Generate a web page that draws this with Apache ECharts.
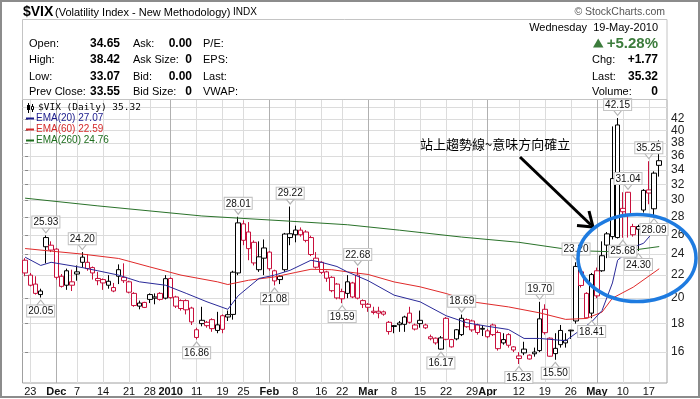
<!DOCTYPE html>
<html>
<head>
<meta charset="utf-8">
<title>$VIX daily</title>
<script src="https://cdn.jsdelivr.net/npm/echarts@6/dist/echarts.min.js"></script>
<style>
  html, body { margin: 0; padding: 0; background: #fff; }
  #chart { width: 700px; height: 399px; }
</style>
</head>
<body>
<div id="chart"></div>
<script>
// trading days shown on the chart
const dates = [
  '2009-11-20','2009-11-23','2009-11-24','2009-11-25','2009-11-27','2009-11-30','2009-12-01','2009-12-02','2009-12-03','2009-12-04',
  '2009-12-07','2009-12-08','2009-12-09','2009-12-10','2009-12-11','2009-12-14','2009-12-15','2009-12-16','2009-12-17','2009-12-18',
  '2009-12-21','2009-12-22','2009-12-23','2009-12-24','2009-12-28','2009-12-29','2009-12-30','2009-12-31','2010-01-04','2010-01-05',
  '2010-01-06','2010-01-07','2010-01-08','2010-01-11','2010-01-12','2010-01-13','2010-01-14','2010-01-15','2010-01-19','2010-01-20',
  '2010-01-21','2010-01-22','2010-01-25','2010-01-26','2010-01-27','2010-01-28','2010-01-29','2010-02-01','2010-02-02','2010-02-03',
  '2010-02-04','2010-02-05','2010-02-08','2010-02-09','2010-02-10','2010-02-11','2010-02-12','2010-02-16','2010-02-17','2010-02-18',
  '2010-02-19','2010-02-22','2010-02-23','2010-02-24','2010-02-25','2010-02-26','2010-03-01','2010-03-02','2010-03-03','2010-03-04',
  '2010-03-05','2010-03-08','2010-03-09','2010-03-10','2010-03-11','2010-03-12','2010-03-15','2010-03-16','2010-03-17','2010-03-18',
  '2010-03-19','2010-03-22','2010-03-23','2010-03-24','2010-03-25','2010-03-26','2010-03-29','2010-03-30','2010-03-31','2010-04-01',
  '2010-04-05','2010-04-06','2010-04-07','2010-04-08','2010-04-09','2010-04-12','2010-04-13','2010-04-14','2010-04-15','2010-04-16',
  '2010-04-19','2010-04-20','2010-04-21','2010-04-22','2010-04-23','2010-04-26','2010-04-27','2010-04-28','2010-04-29','2010-04-30',
  '2010-05-03','2010-05-04','2010-05-05','2010-05-06','2010-05-07','2010-05-10','2010-05-11','2010-05-12','2010-05-13','2010-05-14',
  '2010-05-17','2010-05-18','2010-05-19'
]

const open = [
  23.4, 22.0, 21.2, 20.3, 25.7, 24.9, 24.5, 21.9, 21.1, 21.4,
  22.3, 23.2, 23.2, 22.7, 21.7, 21.6, 21.1, 20.9, 21.9, 21.8,
  21.4, 20.4, 19.35, 19.65, 20.3, 20.1, 20.4, 20.0, 21.7, 20.1,
  19.8, 19.8, 19.2, 17.0, 18.0, 18.1, 18.3, 17.5, 18.6, 18.5,
  18.7, 22.2, 27.2, 26.3, 25.2, 22.5, 23.6, 24.2, 22.4, 21.9,
  22.5, 25.7, 26.0, 26.5, 26.3, 25.7, 23.6, 23.2, 22.3, 21.8,
  21.2, 20.55, 20.4, 21.3, 22.0, 19.8, 19.5, 18.85, 18.95, 18.9,
  18.1, 17.85, 18.05, 17.95, 18.8, 17.9, 18.25, 17.9, 17.05, 16.95,
  16.2, 18.4, 16.85, 16.9, 17.2, 18.3, 18.2, 17.9, 17.65, 17.05,
  17.9, 17.35, 16.85, 17.2, 16.35, 15.75, 15.95, 15.8, 16.0, 16.1,
  19.1, 16.95, 15.9, 17.5, 16.8, 17.52, 18.2, 22.3, 20.4, 18.8,
  22.4, 22.4, 26.1, 25.8, 25.7, 29.0, 31.0, 26.9, 26.6, 28.8,
  31.3, 28.95, 34.65
]
const close = [
  22.2, 21.1, 20.4, 20.6, 24.74, 24.4, 21.8, 21.0, 22.4, 21.1,
  22.1, 23.7, 22.6, 22.2, 21.5, 21.3, 21.45, 20.6, 22.5, 21.5,
  20.5, 19.4, 19.6, 19.25, 19.9, 20.0, 19.9, 21.68, 20.04, 19.35,
  19.16, 19.06, 18.13, 17.55, 18.25, 17.85, 17.63, 17.91, 17.58, 18.68,
  22.27, 27.31, 25.41, 24.55, 23.14, 23.73, 24.62, 22.59, 21.48, 21.60,
  26.08, 26.11, 26.51, 26.00, 25.40, 23.96, 22.73, 22.25, 21.72, 20.63,
  20.02, 19.95, 21.4, 20.1, 20.0, 19.5, 19.26, 18.95, 18.8, 18.72,
  17.42, 17.79, 17.92, 18.5, 18.1, 17.6, 18.0, 17.69, 16.91, 16.62,
  16.97, 16.87, 16.35, 17.55, 18.40, 17.77, 17.54, 17.35, 17.59, 17.47,
  17.2, 16.23, 16.62, 16.46, 16.14, 15.58, 16.2, 15.55, 15.89, 18.36,
  17.34, 15.73, 16.25, 16.5, 16.62, 17.47, 22.81, 21.08, 18.44, 22.05,
  20.19, 23.84, 24.91, 32.80, 40.95, 28.6, 28.3, 26.0, 26.9, 31.24,
  30.9, 33.55, 35.32
]
const low = [
  21.9, 21.0, 20.3, 20.05, 23.1, 24.2, 21.6, 20.9, 20.7, 20.6,
  21.5, 22.7, 22.4, 21.6, 21.1, 20.7, 20.8, 20.5, 21.2, 21.3,
  20.4, 19.3, 19.1, 19.2, 19.6, 19.5, 19.8, 19.9, 19.95, 19.2,
  19.0, 18.7, 17.9, 16.86, 17.8, 17.7, 17.4, 17.3, 17.3, 18.2,
  18.3, 22.0, 24.9, 23.4, 22.9, 22.3, 22.0, 22.4, 21.08, 21.2,
  22.3, 24.9, 25.2, 25.8, 25.2, 23.8, 22.6, 22.1, 21.4, 20.5,
  19.9, 19.59, 20.0, 20.0, 19.9, 19.2, 18.9, 18.7, 18.4, 18.6,
  17.2, 17.3, 17.4, 17.4, 18.0, 17.5, 17.7, 17.6, 16.8, 16.5,
  16.17, 16.8, 16.3, 16.8, 17.1, 17.7, 17.4, 17.2, 17.1, 16.95,
  17.1, 16.1, 16.5, 16.3, 16.0, 15.23, 15.8, 15.52, 15.7, 16.0,
  17.2, 15.7, 15.50, 16.3, 16.3, 16.9, 18.0, 20.9, 18.4, 18.41,
  20.0, 22.3, 23.6, 25.5, 25.6, 25.68, 25.7, 25.8, 24.30, 28.5,
  29.5, 28.09, 33.07
]
const high = [
  23.6, 22.2, 21.9, 20.8, 25.93, 25.3, 24.6, 22.1, 22.6, 22.5,
  22.9, 24.2, 24.0, 22.8, 22.3, 21.7, 22.0, 21.3, 23.0, 23.1,
  21.5, 20.5, 19.8, 19.7, 20.4, 20.4, 20.5, 22.0, 21.8, 20.2,
  19.9, 19.9, 19.3, 17.7, 19.3, 18.2, 18.4, 18.9, 18.7, 19.0,
  22.4, 28.01, 27.6, 27.4, 25.4, 25.3, 25.5, 24.3, 22.5, 22.0,
  26.2, 29.22, 27.0, 26.8, 26.5, 25.9, 24.2, 23.3, 22.4, 21.9,
  21.3, 20.8, 22.0, 21.4, 22.68, 19.9, 19.6, 19.3, 19.3, 19.0,
  18.2, 17.9, 18.2, 18.6, 19.3, 18.0, 19.0, 18.0, 17.2, 17.0,
  17.1, 18.5, 16.9, 17.6, 18.69, 18.4, 18.3, 18.0, 17.9, 17.6,
  18.0, 17.5, 17.3, 17.3, 16.4, 16.0, 16.7, 15.85, 16.3, 19.70,
  19.5, 17.0, 17.3, 17.9, 17.3, 17.55, 23.20, 22.5, 20.5, 22.2,
  22.7, 25.3, 26.3, 40.71, 42.15, 31.0, 31.04, 27.2, 27.1, 31.4,
  35.25, 33.8, 38.42
]

// moving averages at a few days (day index, value)
const ema20Idx = [0, 3, 5, 11, 14, 18, 22, 27, 31, 35, 39, 41, 45, 48, 51, 55, 57, 60, 62, 66, 71, 76, 81, 85, 89, 93, 96, 99, 104, 109, 111, 113, 114, 117, 119, 122]
const ema20Val = [23.7, 22.9, 23.2, 22.7, 22.4, 22.0, 21.4, 21.1, 20.4, 19.7, 19.1, 20.2, 21.7, 22.0, 22.45, 23.4, 23.2, 22.8, 22.3, 21.5, 20.25, 19.7, 18.6, 18.06, 17.8, 17.57, 16.93, 16.93, 16.77, 18.13, 19.0, 21.3, 23.4, 24.7, 25.1, 27.07]
const ema60Idx = [0, 5, 11, 18, 24, 30, 37, 39, 43, 48, 52, 55, 59, 62, 66, 71, 76, 81, 86, 93, 99, 104, 108, 111, 113, 117, 122]
const ema60Val = [24.56, 24.3, 24.0, 23.57, 22.76, 22.0, 21.4, 21.16, 21.54, 21.84, 22.24, 22.54, 22.5, 22.3, 22.06, 21.39, 20.96, 20.39, 19.7, 19.29, 18.82, 18.32, 18.39, 18.88, 20.0, 20.93, 22.59]
const ema260Idx = [0, 14, 34, 51, 62, 72, 84, 95, 106, 112, 117, 122]
const ema260Val = [30.25, 29.3, 28.1, 27.5, 27.1, 26.5, 25.75, 25.2, 24.35, 24.25, 24.4, 24.76]

// x axis tick labels (day index, text), y axis ticks
const xTickIdx = [1, 6, 10, 15, 20, 24, 28, 33, 38, 42, 47, 52, 57, 61, 66, 71, 76, 81, 86, 89, 95, 100, 105, 110, 115, 120]
const xTickText = ['23', 'Dec', '7', '14', '21', '28', '2010', '11', '19', '25', 'Feb', '8', '16', '22', 'Mar', '8', '15', '22', '29', 'Apr', '12', '19', '26', 'May', '10', '17']
const monthIdx = [6, 28, 47, 66, 89, 110]
const yTicks = [16, 18, 20, 22, 24, 26, 28, 30, 32, 34, 36, 38, 40, 42, 44]

// labelled highs and lows (day index, value)
const highMarks = [[4, 25.93], [11, 24.20], [41, 28.01], [51, 29.22], [64, 22.68], [84, 18.69], [99, 19.70], [106, 23.20], [114, 42.15], [116, 31.04], [120, 35.25]]
const lowMarks = [[3, 20.05], [33, 16.86], [48, 21.08], [61, 19.59], [80, 16.17], [95, 15.23], [102, 15.50], [109, 18.41], [115, 25.68], [118, 24.30], [121, 28.09]]

// quote box
const quoteLabels1 = ['Open:', 'High:', 'Low:', 'Prev Close:']
const quoteValues1 = ['34.65', '38.42', '33.07', '33.55']
const quoteLabels2 = ['Ask:', 'Ask Size:', 'Bid:', 'Bid Size:']
const quoteValues2 = ['0.00', '0', '0.00', '0']
const quoteLabels3 = ['P/E:', 'EPS:', 'Last:', 'VWAP:']

const RED = '#c8103c'
const BLACK = '#000'
const FONT = '"Liberation Sans", Arial, sans-serif'

const candles = open.map((o, i) => {
  const c = close[i]
  // colour against the previous close, the first bar against its own open
  const prev = i === 0 ? o : close[i - 1]
  const col = c < prev ? RED : BLACK
  return {
    value: [i, o, c, low[i], high[i]],
    itemStyle: { color: '#fff', color0: col, borderColor: col, borderColor0: col }
  }
})

const pairs = (idx, val) => idx.map((d, k) => [d, val[k]])

const markData = []
highMarks.forEach(([i, v]) => markData.push({
  coord: [i, v], value: v.toFixed(2),
  symbol: 'path://M0 0L10 0L5 6Z', symbolOffset: [0, -5],
  label: { position: 'top' }
}))
lowMarks.forEach(([i, v]) => markData.push({
  coord: [i, v], value: v.toFixed(2),
  symbol: 'path://M5 0L10 6L0 6Z', symbolOffset: [0, 5],
  label: { position: 'bottom' }
}))

function txt(text, x, y, font, extra) {
  return {
    type: 'text', x: x, y: y, z: 50,
    style: Object.assign({
      text: text, fill: '#000', font: font,
      align: 'left', textAlign: 'left',
      verticalAlign: 'middle', textVerticalAlign: 'middle'
    }, extra || {})
  }
}
const right = { align: 'right', textAlign: 'right' }

const rowY = [43.5, 60, 76.5, 92]
const graphics = [
  { type: 'rect', z: 40, shape: { x: 1, y: 1, width: 698, height: 396 }, style: { fill: 'none', stroke: '#8c8c8c', lineWidth: 2 } },
  { type: 'rect', z: 40, shape: { x: 22.5, y: 19.5, width: 644.5, height: 80 }, style: { fill: 'none', stroke: '#c4c4c4', lineWidth: 1 } },
  txt('$VIX', 23, 12, 'bold 14px ' + FONT),
  txt('(Volatility Index - New Methodology)', 55, 12.5, '11px ' + FONT),
  txt('INDX', 233, 12.5, '10px ' + FONT),
  txt('\u00a9 StockCharts.com', 665, 12.5, '10.5px ' + FONT, Object.assign({ fill: '#555' }, right)),
  txt('Wednesday  19-May-2010', 658, 28, '11px ' + FONT, right),
  { type: 'polygon', z: 50, shape: { points: [[593, 47.5], [603.5, 47.5], [598.2, 38.5]] }, style: { fill: '#3c7c3c' } },
  txt('+5.28%', 658, 43.5, 'bold 15px ' + FONT, Object.assign({ fill: '#3c7c3c' }, right)),
  txt('Chg:', 592, 60, '11px ' + FONT),
  txt('+1.77', 658, 60, 'bold 12px ' + FONT, right),
  txt('Last:', 592, 76.5, '11px ' + FONT),
  txt('35.32', 658, 76.5, 'bold 12px ' + FONT, right),
  txt('Volume:', 592, 92, '11px ' + FONT),
  txt('0', 658, 92, 'bold 12px ' + FONT, right),
  // legend inside the plot
  { type: 'line', z: 50, shape: { x1: 28.5, y1: 103, x2: 28.5, y2: 113 }, style: { stroke: '#000', lineWidth: 1 } },
  { type: 'rect', z: 51, shape: { x: 27, y: 105, width: 3, height: 5 }, style: { fill: '#000' } },
  { type: 'line', z: 50, shape: { x1: 32.5, y1: 104, x2: 32.5, y2: 112 }, style: { stroke: '#000', lineWidth: 1 } },
  { type: 'rect', z: 51, shape: { x: 31.5, y: 106.5, width: 2, height: 3 }, style: { fill: '#fff', stroke: '#000', lineWidth: 1 } },
  txt('$VIX (Daily) 35.32', 38, 108, '9.5px "DejaVu Sans Mono", monospace'),
  { type: 'line', z: 50, shape: { x1: 26, y1: 118.5, x2: 34, y2: 118.5 }, style: { stroke: '#1c1c8c', lineWidth: 2 } },
  txt('EMA(20) 27.07', 36, 118.5, '10px ' + FONT, { fill: '#1c1c8c' }),
  { type: 'line', z: 50, shape: { x1: 26, y1: 129.5, x2: 34, y2: 129.5 }, style: { stroke: '#d42a2a', lineWidth: 2 } },
  txt('EMA(60) 22.59', 36, 129.5, '10px ' + FONT, { fill: '#d42a2a' }),
  { type: 'line', z: 50, shape: { x1: 26, y1: 140.5, x2: 34, y2: 140.5 }, style: { stroke: '#1e6e1e', lineWidth: 2 } },
  txt('EMA(260) 24.76', 36, 140.5, '10px ' + FONT, { fill: '#1e6e1e' }),
  // hand drawn notes
  txt('站上趨勢線~意味方向確立', 420, 144, '13px "Noto Sans CJK TC", sans-serif'),
  { type: 'polyline', z: 60, shape: { points: [[520, 157], [591, 225]] }, style: { stroke: '#000', lineWidth: 3, fill: 'none' } },
  { type: 'polyline', z: 60, shape: { points: [[577, 225.5], [593, 227], [589, 211]] }, style: { stroke: '#000', lineWidth: 3, fill: 'none' } },
  { type: 'ellipse', z: 60, shape: { cx: 637, cy: 258, rx: 59, ry: 43.5 }, style: { fill: 'none', stroke: '#1e7be0', lineWidth: 3.5 } }
]
quoteLabels1.forEach((t, k) => {
  graphics.push(txt(t, 29, rowY[k], '11px ' + FONT))
  graphics.push(txt(quoteValues1[k], 120, rowY[k], 'bold 12px ' + FONT, right))
  graphics.push(txt(quoteLabels2[k], 133, rowY[k], '11px ' + FONT))
  graphics.push(txt(quoteValues2[k], 192, rowY[k], 'bold 12px ' + FONT, right))
  graphics.push(txt(quoteLabels3[k], 203, rowY[k], '11px ' + FONT))
})

const chart = echarts.init(document.getElementById('chart'))
const option = {
  animation: false,
  backgroundColor: '#fff',
  textStyle: { fontFamily: FONT },
  grid: { left: 22.5, right: 33, top: 99.5, bottom: 16, show: true, borderColor: '#a0a0a0', borderWidth: 1 },
  xAxis: [{
    type: 'value', min: -0.5, max: 123.5,
    axisLine: { show: false },
    axisTick: { show: false, customValues: xTickIdx },
    axisLabel: {
      customValues: xTickIdx, margin: 3, fontSize: 11, color: '#111',
      formatter: v => {
        const k = xTickIdx.indexOf(Math.round(v))
        if (k < 0) return ''
        return monthIdx.indexOf(xTickIdx[k]) >= 0 ? '{b|' + xTickText[k] + '}' : xTickText[k]
      },
      rich: { b: { fontWeight: 'bold', fontSize: 11, color: '#111' } }
    },
    splitLine: { show: true, lineStyle: { color: '#dcdcdc', width: 1 } }
  }, {
    type: 'value', min: -0.5, max: 123.5, position: 'top',
    axisLine: { show: false },
    axisTick: { show: false, customValues: monthIdx },
    axisLabel: { show: false },
    splitLine: { show: true, lineStyle: { color: '#b0b0b0', width: 1 } }
  }],
  yAxis: {
    type: 'log', logBase: 10, position: 'right', min: 14.08, max: 45.5,
    axisLine: { show: false },
    axisTick: { show: true, length: 3, customValues: yTicks, lineStyle: { color: '#888' } },
    axisLabel: { customValues: yTicks, margin: 4, fontSize: 12, color: '#222', formatter: v => String(Math.round(v)) },
    splitLine: { show: true, lineStyle: { color: '#dcdcdc', width: 1 } },
    minorTick: { show: false }, minorSplitLine: { show: false }
  },
  series: [{
    type: 'candlestick', name: '$VIX',
    data: candles,
    encode: { x: 0, y: [1, 2, 3, 4] },
    barWidth: 5,
    itemStyle: { borderWidth: 1 },
    markPoint: {
      symbolSize: [8, 5],
      itemStyle: { color: '#fff', borderColor: '#b4b4b4', borderWidth: 1 },
      label: {
        show: true, formatter: '{c}', distance: 0,
        fontSize: 10, lineHeight: 10, color: '#111',
        backgroundColor: '#fff', borderColor: '#c0c0c0', borderWidth: 1, padding: [1, 1, 0, 1]
      },
      data: markData
    },
    z: 2
  }, {
    type: 'line', name: 'EMA(260)', data: pairs(ema260Idx, ema260Val),
    showSymbol: false, lineStyle: { color: '#2a722a', width: 1 }, z: 3
  }, {
    type: 'line', name: 'EMA(60)', data: pairs(ema60Idx, ema60Val),
    showSymbol: false, lineStyle: { color: '#e02a2a', width: 1 }, z: 3
  }, {
    type: 'line', name: 'EMA(20)', data: pairs(ema20Idx, ema20Val),
    showSymbol: false, lineStyle: { color: '#2a2a99', width: 1 }, z: 3
  }],
  graphic: { elements: graphics }
}
chart.setOption(option)
</script>
</body>
</html>
